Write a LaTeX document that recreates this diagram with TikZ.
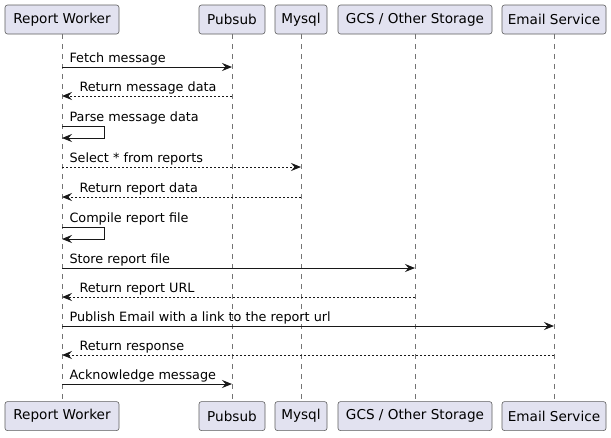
\documentclass[tikz,border=0pt]{standalone}
\usepackage{fontspec}
\setmainfont{DejaVu Sans}
\usetikzlibrary{arrows.meta, positioning}
\definecolor{partfill}{HTML}{E2E2F0}
\definecolor{umlline}{HTML}{181818}
\tikzset{
>={Stealth[length=10pt,width=8pt,inset=3.5pt]}, % filled uml arrow heads
participant/.style={draw=umlline!70, fill=partfill, line width=0.6pt, rounded corners=2.5pt,
  minimum height=29pt, inner xsep=2pt, font=\fontsize{13.6}{16}\selectfont},
lifeline/.style={draw=umlline!60, line width=0.5pt, dash pattern=on 5pt off 5pt},
call/.style={->, draw=umlline, line width=1pt},
reply/.style={call, dash pattern=on 2pt off 2pt},
calltext/.style={anchor=base west, inner sep=0pt, xshift=7pt, yshift=4.5pt,
  font=\fontsize{12.8}{15}\selectfont},
replytext/.style={calltext, xshift=10pt},
}
\begin{document}
\begin{tikzpicture}[x=1pt, y=-1pt, node distance=367pt]%pixel grid, y downwards
  \useasboundingbox (0,0) rectangle (611,437);
  \node[participant, minimum width=114pt] (workerTop) at (62,19.5) {Report Worker};
  \node[participant, minimum width=66pt] (pubsubTop) at (232,19.5) {Pubsub};
  \node[participant, minimum width=52pt] (mysqlTop) at (301,19.5) {Mysql};
  \node[participant, minimum width=154pt] (storageTop) at (415,19.5) {GCS / Other Storage};
  \node[participant, minimum width=104pt] (emailTop) at (554,19.5) {Email Service};
  \node[participant, minimum width=114pt, below=of workerTop] (workerBot) {Report Worker};
  \node[participant, minimum width=66pt, below=of pubsubTop] (pubsubBot) {Pubsub};
  \node[participant, minimum width=52pt, below=of mysqlTop] (mysqlBot) {Mysql};
  \node[participant, minimum width=154pt, below=of storageTop] (storageBot) {GCS / Other Storage};
  \node[participant, minimum width=104pt, below=of emailTop] (emailBot) {Email Service};

  \draw[lifeline] (workerTop) -- (workerBot);
  \draw[lifeline] (pubsubTop) -- (pubsubBot);
  \draw[lifeline] (mysqlTop) -- (mysqlBot);
  \draw[lifeline] (storageTop) -- (storageBot);
  \draw[lifeline] (emailTop) -- (emailBot);

  \draw[call] (workerTop |- 0,67) node[calltext]{Fetch message} -- (pubsubTop |- 0,67);
  \draw[reply] (pubsubTop |- 0,96) -- (workerTop |- 0,96) node[replytext]{Return message data};
  \draw[call] (workerTop |- 0,126) node[calltext]{Parse message data}
    -- ++(42,0) -- ++(0,12) -- (workerTop |- 0,138);
  \draw[reply] (workerTop |- 0,167) node[calltext]{Select * from reports} -- (mysqlTop |- 0,167);
  \draw[reply] (mysqlTop |- 0,197) -- (workerTop |- 0,197) node[replytext]{Return report data};
  \draw[call] (workerTop |- 0,227) node[calltext]{Compile report file}
    -- ++(42,0) -- ++(0,12) -- (workerTop |- 0,239);
  \draw[call] (workerTop |- 0,268) node[calltext]{Store report file} -- (storageTop |- 0,268);
  \draw[reply] (storageTop |- 0,297) -- (workerTop |- 0,297) node[replytext]{Return report URL};
  \draw[call] (workerTop |- 0,326) node[calltext]{Publish Email with a link to the report url}
    -- (emailTop |- 0,326);
  \draw[reply] (emailTop |- 0,355) -- (workerTop |- 0,355) node[replytext]{Return response};
  \draw[call] (workerTop |- 0,384) node[calltext]{Acknowledge message} -- (pubsubTop |- 0,384);
\end{tikzpicture}
\end{document}
